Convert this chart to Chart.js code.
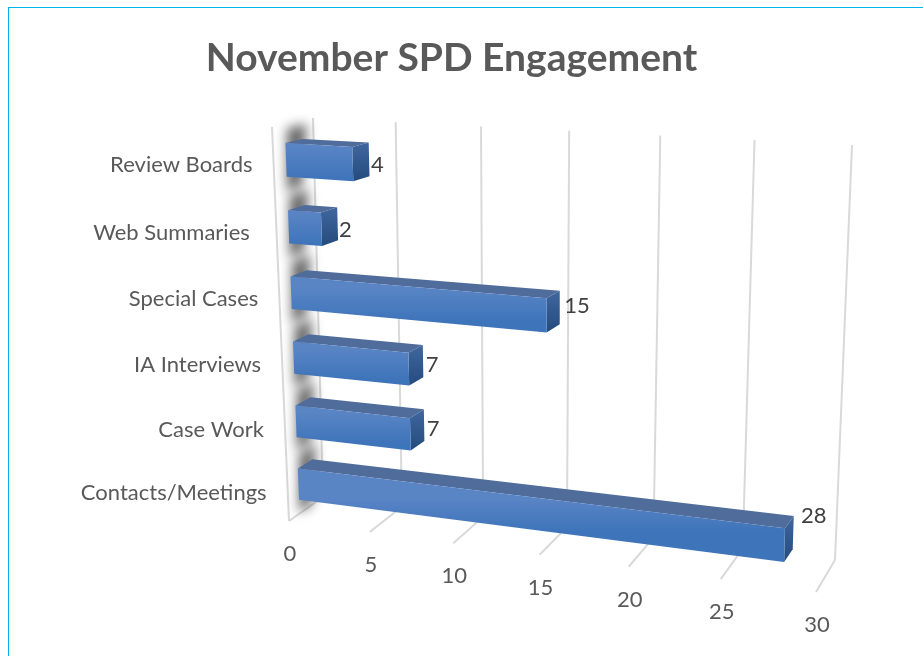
<!DOCTYPE html>
<html><head><meta charset="utf-8">
<style>
html,body{margin:0;padding:0;background:#fff;overflow:hidden}
#frame{position:absolute;left:8px;top:7px;right:0;bottom:0;border-left:1.5px solid #00b0f0;border-top:1.5px solid #00b0f0;pointer-events:none}
canvas{position:absolute;left:0;top:0}
</style>
<script src="https://cdn.jsdelivr.net/npm/chart.js@4"></script>
</head><body>
<canvas id="c" width="923" height="656"></canvas>
<div id="frame"></div>
<script>
const categories = ["Review Boards","Web Summaries ","Special Cases","IA Interviews","Case Work","Contacts/Meetings"];
const engagement = [4,2,15,7,7,28];
const chartTitle = "November SPD Engagement";
const axisMax = 30, axisStep = 5;

// Perspective box that the flat chart plane is projected into: [top-left, top-right, bottom-right, bottom-left]
const frontQuad = [[272,127],[826,159],[816,592],[289,521]];
const backQuad  = [[313,118],[852,145],[835,560],[323,497]];
const barDepth = [0.31,0.73];
const barDrop = 2.5;

function quadMap(q){
  const [[x0,y0],[x1,y1],[x2,y2],[x3,y3]] = q;
  const dx1=x1-x2,dx2=x3-x2,sx=x0-x1+x2-x3,dy1=y1-y2,dy2=y3-y2,sy=y0-y1+y2-y3;
  const den=dx1*dy2-dx2*dy1;
  const g=(sx*dy2-dx2*sy)/den,h=(dx1*sy-sx*dy1)/den;
  const a=x1-x0+g*x1,b=x3-x0+h*x3,c=x0,d=y1-y0+g*y1,e=y3-y0+h*y3,f=y0;
  return (u,v)=>{const w=g*u+h*v+1;return [(a*u+b*v+c)/w,(d*u+e*v+f)/w];};
}
const mapF=quadMap(frontQuad), mapB=quadMap(backQuad);

const box3d={
  id:'box3d',
  project(chart,px,py,depth){
    const a=chart.chartArea;
    const u=(px-a.left)/(a.right-a.left), v=(py-a.top)/(a.bottom-a.top);
    const f=mapF(u,v), b=mapB(u,v);
    return [f[0]+(b[0]-f[0])*depth, f[1]+(b[1]-f[1])*depth];
  },
  poly(ctx,pts){ctx.beginPath();pts.forEach((p,i)=>i?ctx.lineTo(p[0],p[1]):ctx.moveTo(p[0],p[1]));ctx.closePath();},
  beforeDatasetsDraw(chart){
    const ctx=chart.ctx,P=(x,y,d)=>this.project(chart,x,y,d),xs=chart.scales.x,a=chart.chartArea;
    ctx.save();
    ctx.strokeStyle='#d9d9d9';ctx.lineWidth=2;ctx.lineCap='butt';
    const line=(p,q)=>{ctx.beginPath();ctx.moveTo(p[0],p[1]);ctx.lineTo(q[0],q[1]);ctx.stroke();};
    xs.ticks.forEach(t=>{
      const px=xs.getPixelForValue(t.value);
      line(P(px,a.top,1),P(px,a.bottom,1));
      line(P(px,a.bottom,1),P(px,a.bottom,0));
    });
    line(P(xs.getPixelForValue(0),a.top,0),P(xs.getPixelForValue(0),a.bottom,0));
    // soft shadow of each bar on the side wall
    const meta=chart.getDatasetMeta(0);
    ctx.filter='blur(6px)';
    ctx.fillStyle='rgba(45,45,45,0.72)';
    meta.data.forEach(el=>{
      const pad=el.height*0.42, t=el.y-el.height/2-pad+barDrop, b=el.y+el.height/2+pad+barDrop, x0=el.base;
      this.poly(ctx,[P(x0,t,0.36),P(x0,t,0.84),P(x0,b,0.68),P(x0,b,0.3)]);
      ctx.fill();
    });
    ctx.restore();
  },
  afterDatasetsDraw(chart){
    const ctx=chart.ctx,P=(x,y,d)=>this.project(chart,x,y,d);
    const [d0,d1]=barDepth;
    const meta=chart.getDatasetMeta(0);
    const ys=chart.scales.y,xs=chart.scales.x,a=chart.chartArea;
    ctx.save();
    meta.data.forEach((el,i)=>{
      const t=el.y-el.height/2+barDrop,b=el.y+el.height/2+barDrop,l=el.base,r=el.x;
      const ftl=P(l,t,d0),ftr=P(r,t,d0),fbr=P(r,b,d0),fbl=P(l,b,d0);
      const btl=P(l,t,d1),btr=P(r,t,d1),bbr=P(r,b,d1);
      // top face
      this.poly(ctx,[ftl,btl,btr,ftr]);ctx.fillStyle='#4f6c9b';ctx.fill();
      // end face
      let g=ctx.createLinearGradient(0,btr[1],0,fbr[1]);
      g.addColorStop(0,'#3f679f');g.addColorStop(1,'#254b7d');
      this.poly(ctx,[ftr,btr,bbr,fbr]);ctx.fillStyle=g;ctx.fill();
      // front face
      g=ctx.createLinearGradient(0,(ftl[1]+ftr[1])/2,0,(fbl[1]+fbr[1])/2);
      g.addColorStop(0,'#5a85c5');g.addColorStop(1,'#3e74ba');
      this.poly(ctx,[ftl,ftr,fbr,fbl]);ctx.fillStyle=g;ctx.fill();
      // value label
      const v=engagement[i];
      ctx.font='22px Lato';ctx.fillStyle='#404040';ctx.textAlign='left';ctx.textBaseline='middle';
      const mx=(btr[0]+bbr[0])/2,my=(btr[1]+bbr[1])/2;
      ctx.fillText(String(v),mx+1+0.24*v,my+6-0.1*v-0.025*v*v);
    });
    // axis labels
    ctx.font='22px Lato';ctx.fillStyle='#595959';ctx.textBaseline='middle';
    ctx.textAlign='right';
    ys.ticks.forEach((t,i)=>{
      const p=P(xs.getPixelForValue(0),ys.getPixelForValue(i),0);
      ctx.fillText(categories[i],p[0]-21,p[1]+3.5);
    });
    ctx.textAlign='center';
    xs.ticks.forEach(t=>{
      const p=P(xs.getPixelForValue(t.value),a.bottom,0);
      ctx.fillText(String(t.value),p[0]+1,p[1]+33);
    });
    ctx.restore();
  }
};

new Chart(document.getElementById('c'),{
  type:'bar',
  data:{labels:categories,datasets:[{label:'Engagement',data:engagement,backgroundColor:'rgba(0,0,0,0)',borderWidth:0,barPercentage:0.5,categoryPercentage:1}]},
  options:{
    indexAxis:'y',responsive:false,animation:false,
    layout:{padding:{left:0,right:20,top:0,bottom:0}},
    plugins:{
      legend:{display:false},tooltip:{enabled:false},
      title:{display:true,text:chartTitle,color:'#595959',font:{family:'Lato',size:39,weight:'bold'},padding:{top:35,bottom:10}}
    },
    scales:{
      x:{min:0,max:axisMax,ticks:{stepSize:axisStep},display:false},
      y:{display:false}
    }
  },
  plugins:[box3d]
});
</script>
</body></html>
